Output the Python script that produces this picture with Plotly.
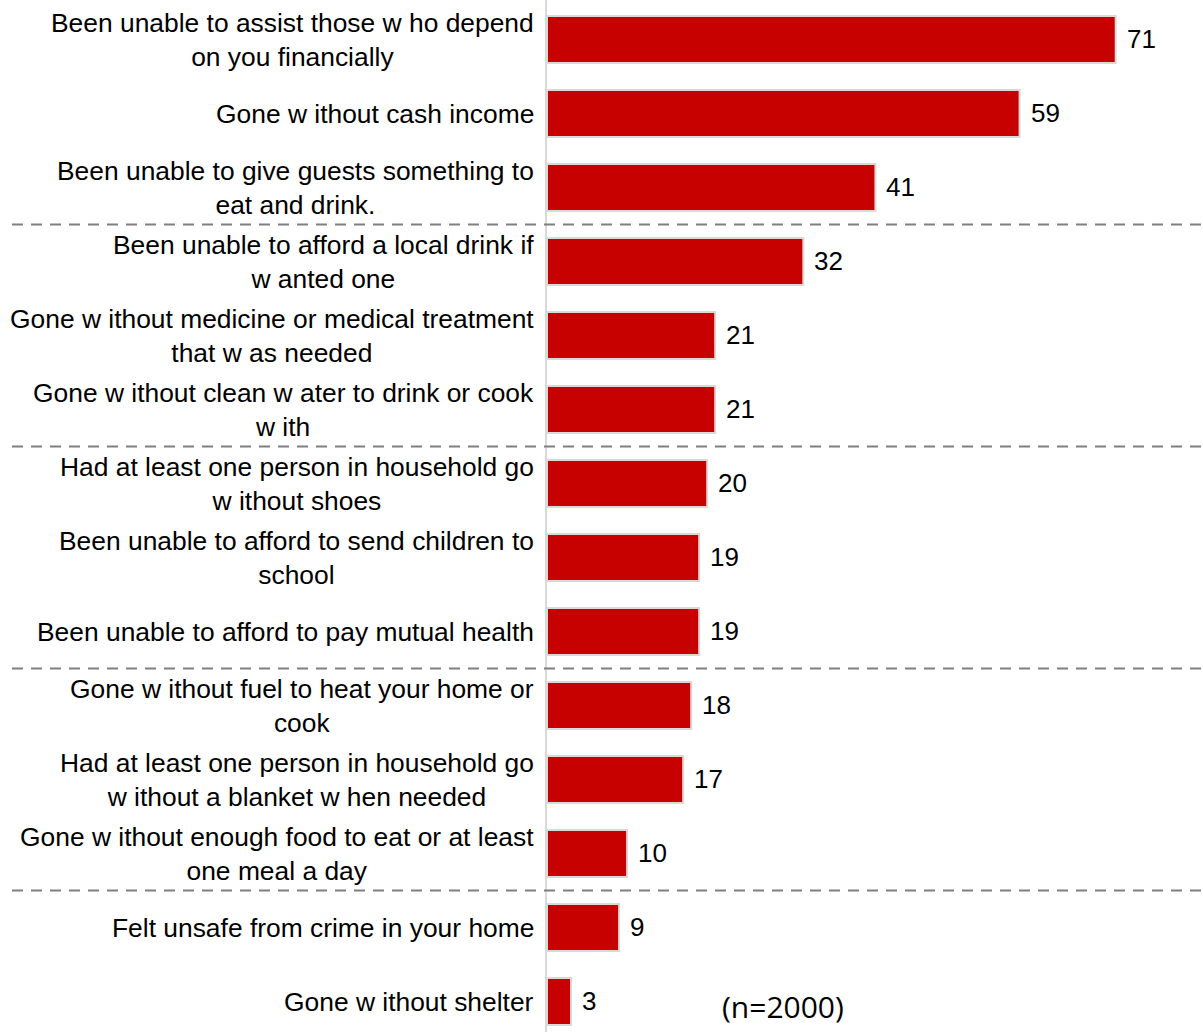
import plotly.graph_objects as go

# Share of households (%) reporting each hardship, top to bottom
labels_line1 = [
    "Been unable to assist those w ho depend",
    "Gone w ithout cash income",
    "Been unable to give guests something to",
    "Been unable to afford a local drink if",
    "Gone w ithout medicine or medical treatment",
    "Gone w ithout clean w ater to drink or cook",
    "Had at least one person in household go",
    "Been unable to afford to send children to",
    "Been unable to afford to pay mutual health",
    "Gone w ithout fuel to heat your home or",
    "Had at least one person in household go",
    "Gone w ithout enough food to eat or at least",
    "Felt unsafe from crime in your home",
    "Gone w ithout shelter",
]
labels_line2 = [
    "on you financially",
    "",
    "eat and drink.",
    "w anted one",
    "that w as needed",
    "w ith",
    "w ithout shoes",
    "school",
    "",
    "cook",
    "w ithout a blanket w hen needed",
    "one meal a day",
    "",
    "",
]
values = [71, 59, 41, 32, 21, 21, 20, 19, 19, 18, 17, 10, 9, 3]
group_breaks = [3, 6, 9, 12]  # first item of each new group
sample_note = "(n=2000)"

W, H = 1203, 1032
LEFT = 547
PX_PER_UNIT = 8.01
ROW_PX = 74.0
FIRST_ROW_PX = 39.5

BAR_RED = "#C70000"
OUTLINE = "#D9D9D9"
LABEL_FONT = dict(family="Liberation Sans, Arial, sans-serif", size=26.4, color="#000000")
VALUE_FONT = dict(family="Liberation Sans, Arial, sans-serif", size=26, color="#000000")

n = len(values)
ypos = list(range(n))

fig = go.Figure(
    go.Bar(
        x=values,
        y=ypos,
        orientation="h",
        width=0.635,
        marker=dict(color=BAR_RED, line=dict(color=OUTLINE, width=2)),
        hoverinfo="skip",
    )
)

annotations = []
for i, (l1, l2, v) in enumerate(zip(labels_line1, labels_line2, values)):
    text = f"{l1}<br>{l2}" if l2 else l1
    # category label: block right-aligned against the axis, lines centred
    annotations.append(dict(
        x=0, xref="paper", y=i, yref="y", text=text, showarrow=False,
        align="center", xanchor="right", yanchor="middle", xshift=-11,
        font=LABEL_FONT,
    ))
    # value label beside the bar
    annotations.append(dict(
        x=v, xref="x", y=i, yref="y", text=str(v), showarrow=False,
        xanchor="left", yanchor="middle", xshift=9, yshift=1,
        font=VALUE_FONT,
    ))

annotations.append(dict(
    x=(720 - LEFT) / (W - LEFT), xref="paper", y=(H - 1006) / H, yref="paper",
    text=sample_note, showarrow=False, xanchor="left", yanchor="middle",
    font=dict(family="Open Sans, sans-serif", size=30, color="#000000"),
))

shapes = []
for b in group_breaks:
    yb = b - 0.5
    shapes.append(dict(
        type="line", xref="paper", yref="y",
        x0=(12 - LEFT) / (W - LEFT), x1=1, y0=yb, y1=yb,
        line=dict(color="#7F7F7F", width=2, dash="11px,8px"),
        layer="above",
    ))

top = -FIRST_ROW_PX / ROW_PX
bottom = top + H / ROW_PX

fig.update_layout(
    width=W, height=H,
    margin=dict(l=LEFT, r=0, t=0, b=0, pad=0),
    paper_bgcolor="white", plot_bgcolor="white",
    showlegend=False,
    bargap=0.365,
    xaxis=dict(range=[0, (W - LEFT) / PX_PER_UNIT], visible=False, fixedrange=True),
    yaxis=dict(
        range=[bottom, top], showticklabels=False, showgrid=False,
        zeroline=False, ticks="", showline=True, linecolor=OUTLINE,
        linewidth=2, fixedrange=True,
    ),
    annotations=annotations,
    shapes=shapes,
)

fig.write_html("out.html")
